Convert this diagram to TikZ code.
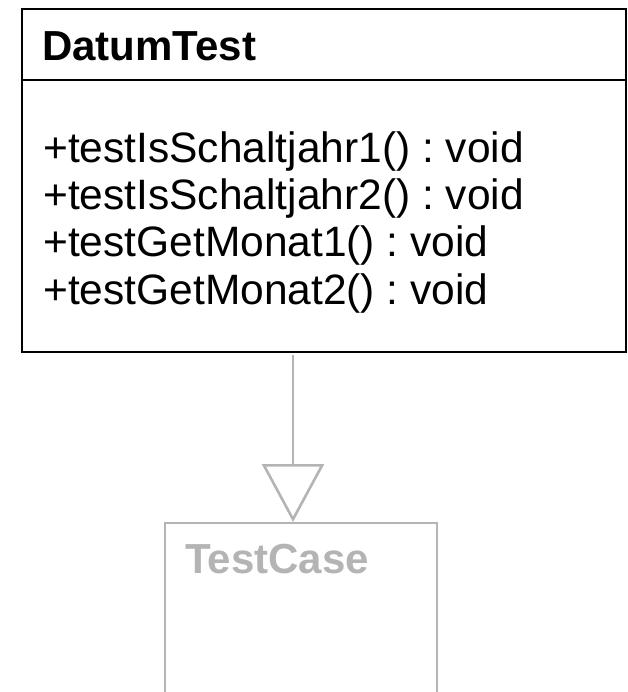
\documentclass[tikz,border=0pt]{standalone}
\usepackage{fontspec}
\setmainfont{Liberation Sans}
\usetikzlibrary{arrows.meta}
\definecolor{umlgray}{RGB}{180,180,180}
\frenchspacing
\tikzset{
  classbox/.style={draw=black, line width=2pt, rectangle, inner sep=0pt, anchor=north west},
  ghostbox/.style={draw=umlgray, line width=2.4pt, rectangle, inner sep=0pt, anchor=north west},
  titletext/.style={font=\fontsize{42}{48}\selectfont\bfseries, anchor=base west, inner sep=0pt},
  methtext/.style={font=\fontsize{42.5}{48}\selectfont, anchor=base west, inner sep=0pt},
  gen/.style={draw=umlgray, line width=2.6pt, -{Triangle[open, length=58pt, width=62pt]}}
}
\begin{document}
\begin{tikzpicture}[x=1pt,y=-1pt]
\clip (0,0) rectangle (627,692);
\fill[white] (0,0) rectangle (627,692);
% DatumTest class
\node[classbox, minimum width=604pt, minimum height=343pt] (dt) at (21,8) {};
\coordinate (divl) at (21,80);
\coordinate (divr) at (625,80);
\draw[line width=2pt] (divl) -- (divr);
\node[titletext] (dtname) at (42,61) {DatumTest};
\node[methtext] (m1) at (43,163) {+testIsSchaltjahr1() : void};
\node[methtext] (m2) at (43,210) {+testIsSchaltjahr2() : void};
\node[methtext] (m3) at (43,257) {+testGetMonat1() : void};
\node[methtext] (m4) at (43,304) {+testGetMonat2() : void};
% TestCase class (faded)
\node[ghostbox, minimum width=272pt, minimum height=260pt] (tc) at (164,522) {};
\node[titletext, text=umlgray] (tcname) at (185,573) {TestCase};
% generalization
\coordinate (gstart) at (293,355);
\draw[gen] (gstart) -- (gstart |- tc.north);
\end{tikzpicture}
\end{document}
